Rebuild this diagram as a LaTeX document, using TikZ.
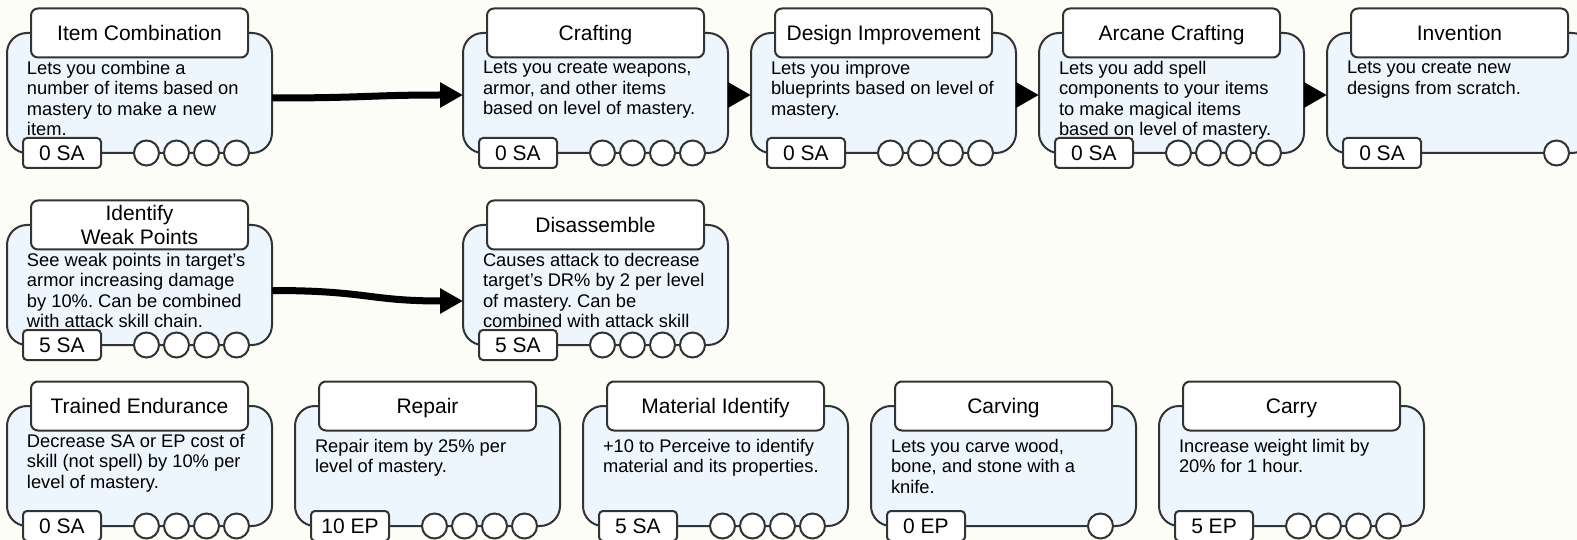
\documentclass[tikz,border=0pt]{standalone}
\usepackage{fontspec}
\setmainfont{Liberation Sans}
\usetikzlibrary{arrows.meta, positioning, calc}
\frenchspacing

\definecolor{fondo}{RGB}{252,253,247}
\definecolor{tarjeta}{RGB}{237,245,253}
\definecolor{borde}{RGB}{51,51,51}

\begin{document}
\begin{tikzpicture}[
		x=1pt, y=-1pt,
		% Estilos de las tarjetas
		skill/.style={draw=borde, line width=2pt, fill=tarjeta, rounded corners=20pt, minimum width=265pt, minimum height=120pt, inner sep=0pt, outer sep=0pt},
		heading/.style={draw=borde, line width=2pt, fill=white, rounded corners=7pt, minimum width=217pt, minimum height=49pt, inner sep=2pt, align=center, text height=15.8pt, text depth=0pt, font=\fontsize{21}{23.5}\selectfont},
		desc/.style={inner sep=0pt, outer sep=0pt, align=left, font=\fontsize{18.3}{20.5}\selectfont},
		cost/.style={draw=borde, line width=2pt, fill=white, rounded corners=4pt, minimum width=78pt, minimum height=30pt, inner sep=0pt, outer sep=0pt, font=\fontsize{21}{24}\selectfont},
		slot/.style={draw=borde, line width=2pt, fill=white, circle, minimum size=25pt, inner sep=0pt},
		flow/.style={draw, line width=7pt, -{Triangle[length=23pt, width=24pt]}}
		]
		
		% --- FONDO ---
		\useasboundingbox (0,0) rectangle (1577,540);
		\fill[fondo] (0,0) rectangle (1577,540);
		\clip (0,0) rectangle (1577,540);
		
		% --- FILA 1 ---
		
		% Item Combination
		\node[skill] (itemcomb) at (139.5,93) {};
		\node[heading] (itemcomb-t) at (itemcomb.north) {Item Combination};
		\node[desc, below right=28pt and 20pt of itemcomb.north west] (itemcomb-d) {Lets you combine a\\number of items based on\\mastery to make a new\\item.};
		\node[cost, right=16pt of itemcomb.south west] (itemcomb-c) {0 SA};
		\foreach \k in {0,...,3} \node[slot] (itemcomb-s\k) at ($(itemcomb.south west)+(139.5+30*\k,0)$) {};
		
		% Crafting
		\node[skill, right=191pt of itemcomb] (craft) {};
		\node[heading] (craft-t) at (craft.north) {Crafting};
		\node[desc, below right=28pt and 20pt of craft.north west] (craft-d) {Lets you create weapons,\\armor, and other items\\based on level of mastery.};
		\node[cost, right=16pt of craft.south west] (craft-c) {0 SA};
		\foreach \k in {0,...,3} \node[slot] (craft-s\k) at ($(craft.south west)+(139.5+30*\k,0)$) {};
		
		% Design Improvement
		\node[skill, right=23pt of craft] (design) {};
		\node[heading] (design-t) at (design.north) {Design Improvement};
		\node[desc, below right=28pt and 20pt of design.north west] (design-d) {Lets you improve\\blueprints based on level of\\mastery.};
		\node[cost, right=16pt of design.south west] (design-c) {0 SA};
		\foreach \k in {0,...,3} \node[slot] (design-s\k) at ($(design.south west)+(139.5+30*\k,0)$) {};
		
		% Arcane Crafting
		\node[skill, right=23pt of design] (arcane) {};
		\node[heading] (arcane-t) at (arcane.north) {Arcane Crafting};
		\node[desc, below right=28pt and 20pt of arcane.north west] (arcane-d) {Lets you add spell\\components to your items\\to make magical items\\based on level of mastery.};
		\node[cost, right=16pt of arcane.south west] (arcane-c) {0 SA};
		\foreach \k in {0,...,3} \node[slot] (arcane-s\k) at ($(arcane.south west)+(139.5+30*\k,0)$) {};
		
		% Invention (cortada por el borde)
		\node[skill, right=23pt of arcane] (invent) {};
		\node[heading] (invent-t) at (invent.north) {Invention};
		\node[desc, below right=28pt and 20pt of invent.north west] (invent-d) {Lets you create new\\designs from scratch.};
		\node[cost, right=16pt of invent.south west] (invent-c) {0 SA};
		\node[slot] (invent-s) at ($(invent.south west)+(229.5,0)$) {};
		
		% --- FILA 2 ---
		
		% Identify Weak Points
		\node[skill, below=72pt of itemcomb] (weak) {};
		\node[heading, text height=, text depth=] (weak-t) at (weak.north) {Identify\\Weak Points};
		\node[desc, below right=28pt and 20pt of weak.north west] (weak-d) {See weak points in target’s\\armor increasing damage\\by 10\%. Can be combined\\with attack skill chain.};
		\node[cost, right=16pt of weak.south west] (weak-c) {5 SA};
		\foreach \k in {0,...,3} \node[slot] (weak-s\k) at ($(weak.south west)+(139.5+30*\k,0)$) {};
		
		% Disassemble
		\node[skill, right=191pt of weak] (disas) {};
		\node[heading] (disas-t) at (disas.north) {Disassemble};
		\node[desc, below right=28pt and 20pt of disas.north west] (disas-d) {Causes attack to decrease\\target’s DR\% by 2 per level\\of mastery. Can be\\combined with attack skill};
		\node[cost, right=16pt of disas.south west] (disas-c) {5 SA};
		\foreach \k in {0,...,3} \node[slot] (disas-s\k) at ($(disas.south west)+(139.5+30*\k,0)$) {};
		
		% --- FILA 3 ---
		
		% Trained Endurance
		\node[skill, below=61pt of weak] (endur) {};
		\node[heading] (endur-t) at (endur.north) {Trained Endurance};
		\node[desc, below right=28pt and 20pt of endur.north west] (endur-d) {Decrease SA or EP cost of\\skill (not spell) by 10\% per\\level of mastery.};
		\node[cost, right=16pt of endur.south west] (endur-c) {0 SA};
		\foreach \k in {0,...,3} \node[slot] (endur-s\k) at ($(endur.south west)+(139.5+30*\k,0)$) {};
		
		% Repair
		\node[skill, right=23pt of endur] (repair) {};
		\node[heading] (repair-t) at (repair.north) {Repair};
		\node[desc, below right=33pt and 20pt of repair.north west] (repair-d) {Repair item by 25\% per\\level of mastery.};
		\node[cost, right=16pt of repair.south west] (repair-c) {10 EP};
		\foreach \k in {0,...,3} \node[slot] (repair-s\k) at ($(repair.south west)+(139.5+30*\k,0)$) {};
		
		% Material Identify
		\node[skill, right=23pt of repair] (matid) {};
		\node[heading] (matid-t) at (matid.north) {Material Identify};
		\node[desc, below right=33pt and 20pt of matid.north west] (matid-d) {+10 to Perceive to identify\\material and its properties.};
		\node[cost, right=16pt of matid.south west] (matid-c) {5 SA};
		\foreach \k in {0,...,3} \node[slot] (matid-s\k) at ($(matid.south west)+(139.5+30*\k,0)$) {};
		
		% Carving
		\node[skill, right=23pt of matid] (carving) {};
		\node[heading] (carving-t) at (carving.north) {Carving};
		\node[desc, below right=33pt and 20pt of carving.north west] (carving-d) {Lets you carve wood,\\bone, and stone with a\\knife.};
		\node[cost, right=16pt of carving.south west] (carving-c) {0 EP};
		\node[slot] (carving-s) at ($(carving.south west)+(229.5,0)$) {};
		
		% Carry
		\node[skill, right=23pt of carving] (carry) {};
		\node[heading] (carry-t) at (carry.north) {Carry};
		\node[desc, below right=33pt and 20pt of carry.north west] (carry-d) {Increase weight limit by\\20\% for 1 hour.};
		\node[cost, right=16pt of carry.south west] (carry-c) {5 EP};
		\foreach \k in {0,...,3} \node[slot] (carry-s\k) at ($(carry.south west)+(139.5+30*\k,0)$) {};
		
		% --- FLECHAS ---
		\draw[flow] ($(itemcomb.east)+(0,5)$) .. controls +(95,0) and +(-95,0) .. ($(craft.west)+(0,2)$);
		\draw[flow] ($(craft.east)+(0,2)$) -- ($(design.west)+(0,2)$);
		\draw[flow] ($(design.east)+(0,2)$) -- ($(arcane.west)+(0,2)$);
		\draw[flow] ($(arcane.east)+(0,2)$) -- ($(invent.west)+(0,2)$);
		\draw[flow] ($(weak.east)+(0,5.5)$) .. controls +(95,0) and +(-95,0) .. ($(disas.west)+(0,16)$);
		
	\end{tikzpicture}
\end{document}
